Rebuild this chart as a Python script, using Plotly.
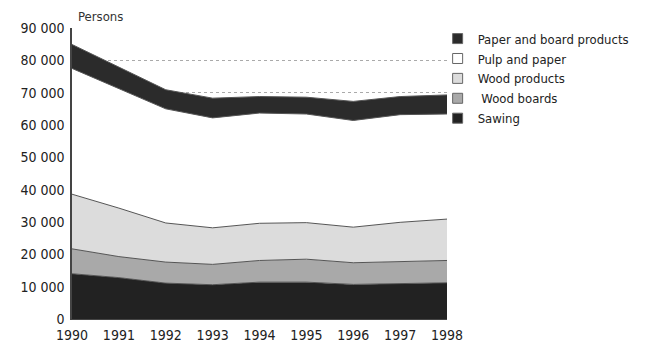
import plotly.graph_objects as go

years = [1990, 1991, 1992, 1993, 1994, 1995, 1996, 1997, 1998]

# persons employed, by branch (stacked bottom to top)
sawing = [14000, 12800, 11100, 10600, 11400, 11400, 10700, 10900, 11200]
wood_boards = [7700, 6500, 6500, 6300, 6700, 7100, 6700, 6800, 6900]
wood_products = [16900, 15000, 12100, 11300, 11500, 11300, 11000, 12200, 12800]
pulp_paper = [38900, 36900, 35300, 34000, 34100, 33600, 33000, 33300, 32500]
paper_board = [7400, 6800, 5900, 6100, 5100, 5200, 5900, 5600, 5900]

y_ticks = [0, 10000, 20000, 30000, 40000, 50000, 60000, 70000, 80000, 90000]
y_labels = ["0", "10 000", "20 000", "30 000", "40 000", "50 000",
            "60 000", "70 000", "80 000", "90 000"]

FONT = "DejaVu Sans Condensed, Liberation Sans Narrow, Arial Narrow, sans-serif"
INK = "#222222"

series = [
    ("Sawing", sawing, "#222222"),
    (" Wood boards", wood_boards, "#a9a9a9"),
    ("Wood products", wood_products, "#dcdcdc"),
    ("Pulp and paper", pulp_paper, "#ffffff"),
    ("Paper and board products", paper_board, "#2b2b2b"),
]

fig = go.Figure()
for name, vals, col in series:
    fig.add_trace(go.Scatter(
        x=years, y=vals, name=name, showlegend=False,
        mode="lines", stackgroup="one",
        line=dict(color="#555555", width=1),
        fillcolor=col,
    ))

# small square swatches for the legend
for name, vals, col in series:
    fig.add_trace(go.Scatter(
        x=[None], y=[None], name=name, mode="markers",
        marker=dict(symbol="square", size=10, color=col,
                    line=dict(color="#666666", width=1)),
    ))

# page body has an 8px margin, so the margins below are offset for it
fig.update_layout(
    width=662, height=347,
    margin=dict(l=58, r=223, t=18, b=36),
    plot_bgcolor="white", paper_bgcolor="white",
    font=dict(family=FONT, size=14, color=INK),
    showlegend=True,
    legend=dict(
        x=0.975, y=1.015, xanchor="left", yanchor="top",
        traceorder="reversed",
        font=dict(family=FONT, size=13, color=INK),
        itemwidth=30, tracegroupgap=0,
        bgcolor="rgba(0,0,0,0)",
    ),
    annotations=[dict(
        text="Persons", x=0, y=1, xref="paper", yref="paper",
        xanchor="left", yanchor="bottom", xshift=4, yshift=2,
        showarrow=False, font=dict(family=FONT, size=13, color="#333333"),
    )],
)
fig.update_xaxes(
    range=[1990, 1998], tickvals=years, ticktext=[str(y) for y in years],
    showgrid=False, zeroline=False, showline=True, linecolor="#444444",
    ticks="outside", ticklen=3, tickcolor="white", tickfont=dict(size=14),
)
fig.update_yaxes(
    range=[0, 90000], tickvals=y_ticks, ticktext=y_labels,
    showgrid=True, gridcolor="#aaaaaa", gridwidth=1, griddash="dot",
    zeroline=False, showline=True, linecolor="#444444", linewidth=1.5,
    ticks="", ticklabelstandoff=3, tickfont=dict(size=14),
)

fig.write_html("out.html")
